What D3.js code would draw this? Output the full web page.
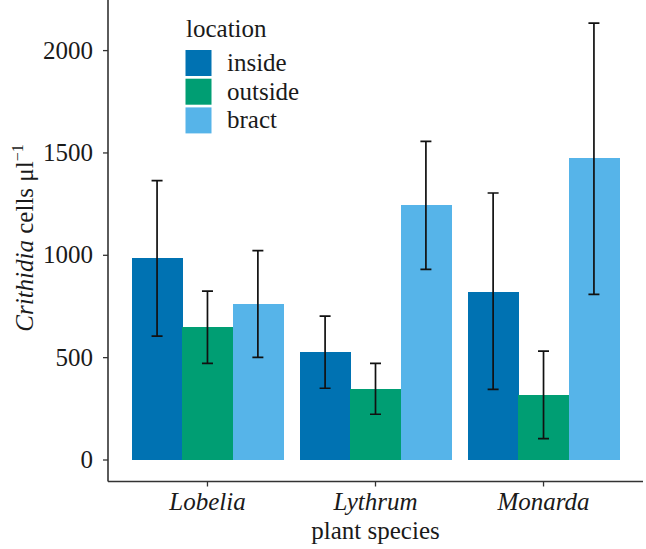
<!DOCTYPE html>
<html><head><meta charset="utf-8">
<script src="https://cdn.jsdelivr.net/npm/d3@7"></script>
<style>body{margin:0;background:#fff}svg{display:block}
svg text{font-family:"Liberation Serif","Times New Roman",Times,serif !important;}</style>
</head><body>
<script>
const species = ["Lobelia", "Lythrum", "Monarda"];
const locations = ["inside", "outside", "bract"];
const colors = ["#0072B2", "#009E73", "#56B4E9"];
const meanInside = [984, 525, 820];
const meanOutside = [646, 344, 314];
const meanBract = [760, 1243, 1471];
const lowInside = [603, 348, 343];
const highInside = [1362, 700, 1302];
const lowOutside = [470, 221, 102];
const highOutside = [823, 470, 529];
const lowBract = [499, 929, 807];
const highBract = [1020, 1554, 2132];
const yTicks = [0, 500, 1000, 1500, 2000];

const means = [meanInside, meanOutside, meanBract];
const lows = [lowInside, lowOutside, lowBract];
const highs = [highInside, highOutside, highBract];
const data = [];
species.forEach((s, i) => locations.forEach((l, j) => data.push({s, l, j, v: means[j][i], lo: lows[j][i], hi: highs[j][i]})));

const W = 646, H = 549;
const FS = 25;
const svg = d3.select("body").append("svg").attr("width", W).attr("height", H);
const x0 = 108, x1 = 643, yBase = 481.5;

const x = d3.scaleBand().domain(species).range([x0, x1]).paddingInner(0.1).paddingOuter(0.142);
const xs = d3.scaleBand().domain(locations).range([0, x.bandwidth()]);
const y = d3.scaleLinear().domain([0, 2000]).range([459.5, 50.1]);

// bars
svg.append("g").attr("shape-rendering", "crispEdges").selectAll("rect").data(data).join("rect")
  .attr("x", d => x(d.s) + xs(d.l))
  .attr("width", xs.bandwidth() + 0.5)
  .attr("y", d => y(d.v))
  .attr("height", d => y(0) - y(d.v))
  .attr("fill", d => colors[d.j]);

// error bars
const eb = svg.append("g").attr("stroke", "#111").attr("stroke-width", 1.7).attr("fill", "none");
data.forEach(d => {
  const cx = x(d.s) + xs(d.l) + xs.bandwidth() / 2;
  const cw = 5.5;
  eb.append("path").attr("d",
    `M${cx},${y(d.hi)}V${y(d.lo)}M${cx - cw},${y(d.hi)}H${cx + cw}M${cx - cw},${y(d.lo)}H${cx + cw}`);
});

// y axis
const ya = svg.append("g").attr("transform", `translate(${x0},0)`)
  .call(d3.axisLeft(y).tickValues(yTicks).tickSize(5).tickPadding(10).tickFormat(d3.format("d")));
ya.select(".domain").remove();
ya.selectAll("line").attr("stroke", "#333").attr("stroke-width", 1.3);
ya.selectAll("text").attr("font-size", FS).attr("fill", "#1a1a1a");
svg.append("line").attr("x1", x0).attr("x2", x0).attr("y1", 0).attr("y2", yBase)
  .attr("stroke", "#333").attr("stroke-width", 1.6);

// x axis
const xa = svg.append("g").attr("transform", `translate(0,${yBase})`)
  .call(d3.axisBottom(x).tickSize(5).tickPadding(6));
xa.select(".domain").remove();
xa.selectAll("line").attr("stroke", "#333").attr("stroke-width", 1.3);
xa.selectAll("text").attr("font-size", FS).attr("font-style", "italic").attr("fill", "#1a1a1a");
svg.append("line").attr("x1", x0).attr("x2", x1).attr("y1", yBase).attr("y2", yBase)
  .attr("stroke", "#333").attr("stroke-width", 1.6);

// axis titles
svg.append("text").attr("x", (x0 + x1) / 2).attr("y", 539).attr("text-anchor", "middle")
  .attr("font-size", FS).attr("fill", "#1a1a1a").text("plant species");
const yt = svg.append("text").attr("transform", `translate(33,${238}) rotate(-90)`).attr("text-anchor", "middle")
  .attr("font-size", FS).attr("fill", "#1a1a1a");
yt.append("tspan").attr("font-style", "italic").text("Crithidia");
yt.append("tspan").text(" cells μl");
yt.append("tspan").attr("font-size", 16).attr("dy", -10).text("−1");

// legend
const lg = svg.append("g");
lg.append("text").attr("x", 186).attr("y", 37).attr("font-size", FS)
  .attr("fill", "#1a1a1a").text("location");
locations.forEach((l, j) => {
  const ky = 50 + j * 28.7;
  lg.append("rect").attr("x", 185.5).attr("y", ky).attr("width", 26).attr("height", 26).attr("fill", colors[j]);
  lg.append("text").attr("x", 227).attr("y", ky + 21).attr("font-size", FS)
    .attr("fill", "#1a1a1a").text(l);
});
</script>
</body></html>
